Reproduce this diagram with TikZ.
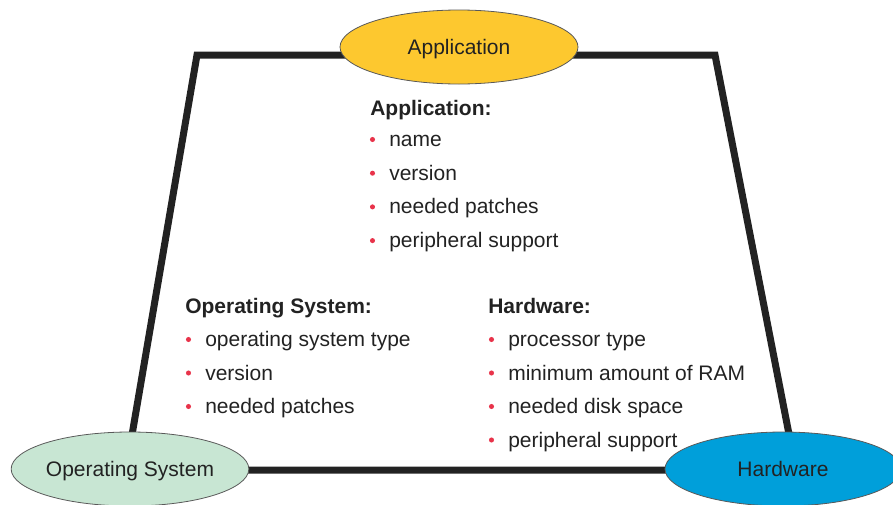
\documentclass[tikz,border=0pt]{standalone}
\usepackage{fontspec}
\setmainfont{Liberation Sans}
\usetikzlibrary{shapes.geometric}
\definecolor{framegray}{HTML}{222222}
\definecolor{textgray}{HTML}{222222}
\definecolor{appyellow}{HTML}{FDC82F}
\definecolor{osgreen}{HTML}{C8E6D3}
\definecolor{hwblue}{HTML}{009FDA}
\definecolor{bulletred}{HTML}{E8334A}
\tikzset{
  txt/.style={anchor=base west, inner sep=0pt, text=textgray},
  oval/.style={ellipse, draw=black!65, line width=0.6pt, text=textgray,
    minimum width=177pt, minimum height=55.5pt, inner sep=0pt,
    text height=11.25pt, text depth=0pt},
  framepath/.style={draw=framegray, line width=5.25pt, line join=miter},
  dot/.style={circle, fill=bulletred, inner sep=0pt, minimum size=3.8pt},
}
\begin{document}
\begin{tikzpicture}[x=0.75pt, y=-0.75pt, font=\fontsize{15.75}{18}\selectfont]
\useasboundingbox (0,0) rectangle (893,504);
\clip (0,0) rectangle (893,504);
% corners of the frame
\coordinate (tl) at (197,55);
\coordinate (tr) at (715,55);
\coordinate (bl) at (126,470);
\coordinate (br) at (796,470);
\draw[framepath] (bl) -- (tl) -- (tr) -- (br) -- cycle;
% the three components
\node[oval, fill=appyellow, minimum width=178.5pt] (app) at (459,47) {Application};
\node[oval, fill=osgreen, minimum width=175.5pt] (os) at (130,469) {Operating System};
\node[oval, fill=hwblue] (hw) at (783,469) {Hardware};
% application properties
\node[txt] (apphead) at (370,115) {\textbf{Application:}};
\foreach \t [count=\i] in {name, version, needed patches, peripheral support}{
  \node[txt] (appitem\i) at (389,{146.5+33.7*(\i-1)}) {\t};
  \node[dot] (appdot\i) at (372.5,{139.5+33.7*(\i-1)}) {};
}
% operating system properties
\node[txt] (oshead) at (185,313) {\textbf{Operating System:}};
\foreach \t [count=\i] in {operating system type, version, needed patches}{
  \node[txt] (ositem\i) at (205,{346.5+33.5*(\i-1)}) {\t};
  \node[dot] (osdot\i) at (188.5,{339.5+33.5*(\i-1)}) {};
}
% hardware properties
\node[txt] (hwhead) at (488,313) {\textbf{Hardware:}};
\foreach \t [count=\i] in {processor type, minimum amount of RAM, needed disk space, peripheral support}{
  \node[txt] (hwitem\i) at (508,{346.5+33.5*(\i-1)}) {\t};
  \node[dot] (hwdot\i) at (491.5,{339.5+33.5*(\i-1)}) {};
}
\end{tikzpicture}
\end{document}
